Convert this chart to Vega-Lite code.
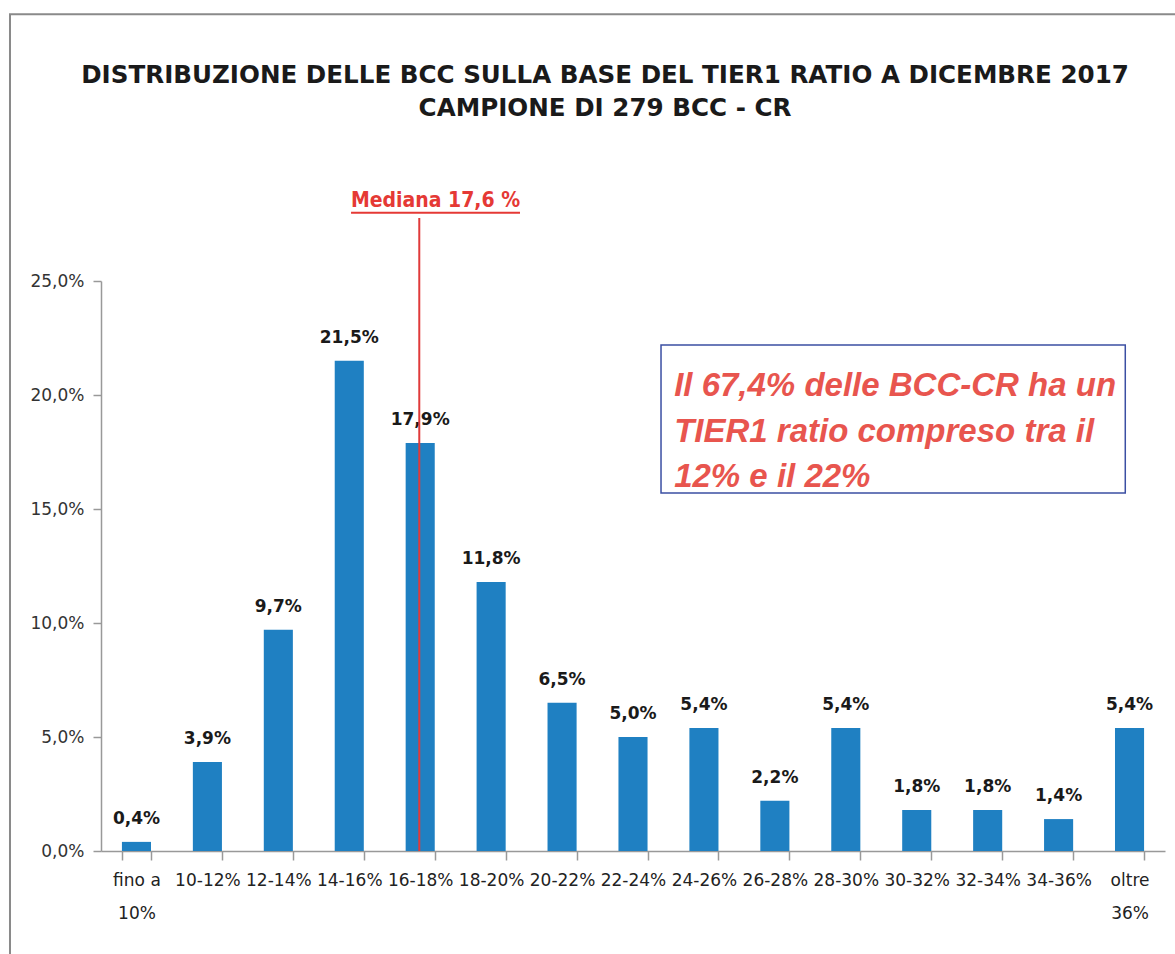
{
  "$schema": "https://vega.github.io/schema/vega-lite/v6.json",
  "width": 1064,
  "height": 570,
  "autosize": {"type": "none"},
  "padding": {"left": 101, "top": 281, "right": 10, "bottom": 103},
  "background": "white",
  "title": {
    "text": ["DISTRIBUZIONE DELLE BCC SULLA BASE DEL TIER1 RATIO A DICEMBRE 2017", "CAMPIONE DI 279 BCC - CR"],
    "font": "DejaVu Sans",
    "fontSize": 24.6,
    "fontWeight": "bold",
    "color": "#1a1a1a",
    "anchor": "middle",
    "dx": -28,
    "offset": -108,
    "lineHeight": 33
  },
  "config": {
    "view": {"stroke": null},
    "locale": {"number": {"decimal": ",", "thousands": ".", "grouping": [3], "currency": ["", " €"]}}
  },
  "resolve": {"scale": {"x": "independent"}},
  "layer": [
    {
      "data": {"values": [
        {"cat": "fino a 10%", "v": 0.004},
        {"cat": "10-12%", "v": 0.039},
        {"cat": "12-14%", "v": 0.097},
        {"cat": "14-16%", "v": 0.215},
        {"cat": "16-18%", "v": 0.179},
        {"cat": "18-20%", "v": 0.118},
        {"cat": "20-22%", "v": 0.065},
        {"cat": "22-24%", "v": 0.050},
        {"cat": "24-26%", "v": 0.054},
        {"cat": "26-28%", "v": 0.022},
        {"cat": "28-30%", "v": 0.054},
        {"cat": "30-32%", "v": 0.018},
        {"cat": "32-34%", "v": 0.018},
        {"cat": "34-36%", "v": 0.014},
        {"cat": "oltre 36%", "v": 0.054}
      ]},
      "encoding": {
        "x": {
          "field": "cat", "type": "nominal", "sort": null,
          "scale": {"paddingInner": 0.59, "paddingOuter": 0.295},
          "axis": {
            "title": null, "tickBand": "extent", "tickSize": 9, "tickColor": "#999", "tickWidth": 1.5,
            "domainColor": "#999", "domainWidth": 1.5,
            "labelFont": "DejaVu Sans", "labelFontSize": 17, "labelColor": "#222", "labelAngle": 0,
            "labelPadding": 12, "labelLineHeight": 33, "labelOverlap": false, "labelBound": false, "labelFlush": false,
            "labelExpr": "datum.label == 'fino a 10%' ? ['fino a', '10%'] : datum.label == 'oltre 36%' ? ['oltre', '36%'] : datum.label"
          }
        },
        "y": {
          "field": "v", "type": "quantitative", "scale": {"domain": [0, 0.25]}, "title": null,
          "axis": {
            "title": null, "values": [0, 0.05, 0.1, 0.15, 0.2, 0.25], "format": ".1%", "grid": false,
            "tickSize": 8, "tickColor": "#999", "tickWidth": 1.5, "domainColor": "#999", "domainWidth": 1.5,
            "labelFont": "DejaVu Sans", "labelFontSize": 17, "labelColor": "#333", "labelPadding": 9
          }
        }
      },
      "layer": [
        {"mark": {"type": "bar", "color": "#1f80c2"}},
        {
          "mark": {"type": "text", "dy": -18, "baseline": "alphabetic", "font": "DejaVu Sans", "fontWeight": "bold", "fontSize": 17, "color": "#1a1a1a"},
          "encoding": {"text": {"field": "v", "format": ".1%"}}
        }
      ]
    },
    {
      "data": {"values": [{"x1": -1.283, "x2": 15.3, "y1": -0.05, "y2": 0.367}]},
      "mark": {"type": "rect", "fill": null, "stroke": "#8a8a8a", "strokeWidth": 2},
      "encoding": {
        "x": {"field": "x1", "type": "quantitative", "scale": {"domain": [0, 15], "nice": false, "zero": false}, "axis": null},
        "x2": {"field": "x2"},
        "y": {"field": "y1", "type": "quantitative", "scale": {"domain": [0, 0.25]}, "title": null},
        "y2": {"field": "y2"}
      }
    },
    {
      "data": {"values": [{"x": 4.487, "y1": 0, "y2": 0.2776}]},
      "mark": {"type": "rule", "color": "#e03a3a", "strokeWidth": 2},
      "encoding": {
        "x": {"field": "x", "type": "quantitative", "scale": {"domain": [0, 15], "nice": false, "zero": false}, "axis": null},
        "y": {"field": "y1", "type": "quantitative", "scale": {"domain": [0, 0.25]}, "title": null},
        "y2": {"field": "y2"}
      }
    },
    {
      "data": {"values": [{"x1": 3.525, "x2": 5.907, "y": 0.2799}]},
      "mark": {"type": "rule", "color": "#e53935", "strokeWidth": 2},
      "encoding": {
        "x": {"field": "x1", "type": "quantitative", "scale": {"domain": [0, 15], "nice": false, "zero": false}, "axis": null},
        "x2": {"field": "x2"},
        "y": {"field": "y", "type": "quantitative", "scale": {"domain": [0, 0.25]}, "title": null}
      }
    },
    {
      "data": {"values": [{"x": 4.716, "y": 0.2825, "t": "Mediana 17,6 %"}]},
      "mark": {"type": "text", "align": "center", "baseline": "alphabetic", "font": "DejaVu Sans Condensed, DejaVu Sans", "fontWeight": "bold", "fontSize": 21, "color": "#e53935"},
      "encoding": {
        "x": {"field": "x", "type": "quantitative", "scale": {"domain": [0, 15], "nice": false, "zero": false}, "axis": null},
        "y": {"field": "y", "type": "quantitative", "scale": {"domain": [0, 0.25]}, "title": null},
        "text": {"field": "t"}
      }
    },
    {
      "data": {"values": [{"x1": 7.895, "x2": 14.44, "y1": 0.157, "y2": 0.2219}]},
      "mark": {"type": "rect", "fill": null, "stroke": "#3b4fa3", "strokeWidth": 1.5},
      "encoding": {
        "x": {"field": "x1", "type": "quantitative", "scale": {"domain": [0, 15], "nice": false, "zero": false}, "axis": null},
        "x2": {"field": "x2"},
        "y": {"field": "y1", "type": "quantitative", "scale": {"domain": [0, 0.25]}, "title": null},
        "y2": {"field": "y2"}
      }
    },
    {
      "data": {"values": [
        {"x": 8.08, "y": 0.1996, "t": "Il 67,4% delle BCC-CR ha un"},
        {"x": 8.08, "y": 0.1794, "t": "TIER1 ratio compreso tra il"},
        {"x": 8.08, "y": 0.1597, "t": "12% e il 22%"}
      ]},
      "mark": {"type": "text", "align": "left", "baseline": "alphabetic", "font": "Liberation Sans", "fontWeight": "bold", "fontStyle": "italic", "fontSize": 33, "color": "#e8554e"},
      "encoding": {
        "x": {"field": "x", "type": "quantitative", "scale": {"domain": [0, 15], "nice": false, "zero": false}, "axis": null},
        "y": {"field": "y", "type": "quantitative", "scale": {"domain": [0, 0.25]}, "title": null},
        "text": {"field": "t"}
      }
    }
  ]
}
